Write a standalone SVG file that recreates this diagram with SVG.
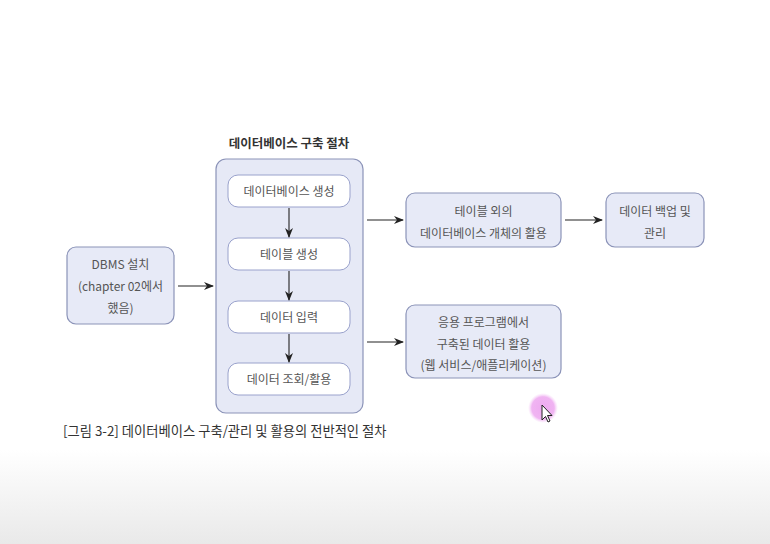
<svg xmlns="http://www.w3.org/2000/svg" width="770" height="544" viewBox="0 0 770 544">
<defs>
<linearGradient id="bg" x1="0" y1="0" x2="0" y2="1">
<stop offset="0" stop-color="#ffffff"/>
<stop offset="1" stop-color="#e9e9e9"/>
</linearGradient>
<radialGradient id="glow">
<stop offset="0" stop-color="#eeaaf0"/>
<stop offset="0.75" stop-color="#f0b4f2"/>
<stop offset="1" stop-color="#f7d6f8" stop-opacity="0"/>
</radialGradient>
<marker id="ah" markerWidth="10" markerHeight="8" refX="9" refY="4" orient="auto" markerUnits="userSpaceOnUse">
<path d="M0,0 L10,4 L0,8 L3,4 Z" fill="#222"/>
</marker>
</defs>
<style>
.node{fill:#e7eaf7;stroke:#8b93b8;stroke-width:1.2}
.inner{fill:#ffffff;stroke:#9aa2cc;stroke-width:1}
.cont{fill:#e6e9f6;stroke:#8b93b8;stroke-width:1.2}
.t{font-family:"Noto Sans CJK KR","Noto Sans",sans-serif;font-size:12px;fill:#555;text-anchor:middle}
.title{font-family:"Noto Sans CJK KR","Noto Sans",sans-serif;font-size:12.5px;font-weight:bold;fill:#333;text-anchor:middle}
.cap{font-family:"Noto Sans CJK KR","Noto Sans",sans-serif;font-size:13.3px;fill:#333}
.c{stroke:#222;stroke-width:1.1;fill:none;marker-end:url(#ah)}
</style>
<rect x="0" y="0" width="770" height="544" fill="#ffffff"/>
<rect x="0" y="450" width="770" height="94" fill="url(#bg)"/>

<g id="title"><text class="title" x="289" y="148">데이터베이스 구축 절차</text></g>

<g id="container"><rect class="cont" x="216" y="159" width="147" height="254" rx="10"/></g>

<g id="n-createdb"><rect class="inner" x="228" y="175" width="122" height="32" rx="10"/><text class="t" x="289" y="196">데이터베이스 생성</text></g>
<g id="n-createtable"><rect class="inner" x="228" y="238" width="122" height="32" rx="10"/><text class="t" x="289" y="259">테이블 생성</text></g>
<g id="n-input"><rect class="inner" x="228" y="301" width="122" height="32" rx="10"/><text class="t" x="289" y="322">데이터 입력</text></g>
<g id="n-query"><rect class="inner" x="228" y="363" width="122" height="32" rx="10"/><text class="t" x="289" y="384">데이터 조회/활용</text></g>

<g id="n-dbms"><rect class="node" x="67" y="247" width="107" height="77" rx="9"/>
<text class="t" x="120.5" y="269">DBMS 설치</text>
<text class="t" x="120.5" y="291">(chapter 02에서</text>
<text class="t" x="120.5" y="313">했음)</text></g>

<g id="n-objects"><rect class="node" x="406" y="193" width="155" height="54" rx="9"/>
<text class="t" x="483.5" y="216">테이블 외의</text>
<text class="t" x="483.5" y="238">데이터베이스 개체의 활용</text></g>

<g id="n-backup"><rect class="node" x="606" y="193" width="98" height="54" rx="9"/>
<text class="t" x="655" y="216">데이터 백업 및</text>
<text class="t" x="655" y="238">관리</text></g>

<g id="n-app"><rect class="node" x="406" y="305" width="155" height="73" rx="9"/>
<text class="t" x="483.5" y="327">응용 프로그램에서</text>
<text class="t" x="483.5" y="349">구축된 데이터 활용</text>
<text class="t" x="483.5" y="370">(웹 서비스/애플리케이션)</text></g>

<g id="connectors">
<line class="c" x1="289" y1="208" x2="289" y2="237"/>
<line class="c" x1="289" y1="271" x2="289" y2="300"/>
<line class="c" x1="289" y1="334" x2="289" y2="362"/>
<line class="c" x1="178" y1="286" x2="213" y2="286"/>
<line class="c" x1="367" y1="220" x2="403" y2="220"/>
<line class="c" x1="565" y1="220" x2="602" y2="220"/>
<line class="c" x1="367" y1="342" x2="403" y2="342"/>
</g>

<g id="caption"><text class="cap" x="63" y="436">[그림 3-2] 데이터베이스 구축/관리 및 활용의 전반적인 절차</text></g>

<g id="cursor">
<circle cx="543" cy="408" r="15" fill="url(#glow)"/>
<path d="M542,405 L542,420 L545.5,416.5 L548,422 L550,421 L547.5,415.5 L552,415.5 Z" fill="#fff" stroke="#222" stroke-width="1"/>
</g>
</svg>
